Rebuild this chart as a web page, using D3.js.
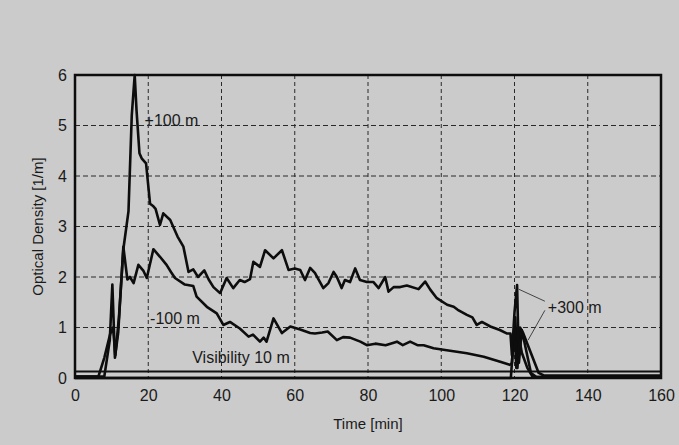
<!DOCTYPE html>
<html>
<head>
<meta charset="utf-8">
<script src="https://cdnjs.cloudflare.com/ajax/libs/d3/7.8.5/d3.min.js"></script>
<style>
	html, body { margin: 0; padding: 0; background: #cbcbcb; }
	text { font-family: "Liberation Sans", Arial, sans-serif; fill: #1a1a1a; }
</style>
</head>
<body>
<div id="chart"></div>
<script>
/* jshint esversion: 6 */
const width = 679,
			height = 445;

// Values: [time (min), optical density (1/m)]
const plus100 = [
	[0, 0.03], [6.4, 0.03], [8, 0.4], [9.6, 0.87], [10.4, 1.0], [11, 0.45], [12, 1.2],
	[13.2, 2.55], [14.6, 3.3], [15.5, 5.2], [16.3, 6.0], [16.8, 5.3], [17.6, 4.45],
	[18.2, 4.35], [19.4, 4.25], [20.5, 3.45], [21.4, 3.4], [22, 3.35], [23.2, 3.03],
	[24.1, 3.26], [26, 3.13], [28, 2.8], [29.6, 2.6], [31, 2.1], [32.3, 2.15], [33.6, 2.0],
	[35.3, 2.13], [36.5, 1.95], [37.8, 1.8], [39.6, 1.68], [41.4, 1.98], [43.2, 1.78],
	[45, 1.94], [46.3, 1.9], [47.8, 1.96], [48.7, 2.3], [50.5, 2.2], [51.9, 2.53],
	[54.2, 2.37], [56.5, 2.53], [58.3, 2.14], [60, 2.17], [61.5, 2.14], [62.8, 1.94],
	[64.2, 2.18], [65.5, 2.08], [67.8, 1.78], [69.2, 1.88], [70.6, 2.1], [71.5, 2.0],
	[72.8, 1.78], [73.7, 1.94], [75.1, 1.9], [76.5, 2.17], [77.8, 1.94], [79.7, 1.9],
	[81.5, 1.9], [82.9, 1.78], [84.7, 2.0], [85.6, 1.71], [87, 1.8], [88.8, 1.8],
	[90.6, 1.83], [93.8, 1.76], [95.6, 1.91], [97, 1.75], [98.8, 1.58], [101.6, 1.45],
	[103.4, 1.41], [104.5, 1.35], [107, 1.25], [108.5, 1.2], [109.7, 1.05], [111.1, 1.11],
	[113.4, 1.02], [116, 0.95], [118, 0.88], [118.9, 0.88], [119.3, 0.45], [120, 1.3],
	[120.7, 1.84], [121.2, 0.3], [122, 0.95], [124.5, 0.1], [126, 0.02], [160, 0.02]
];

const minus100 = [
	[0, 0.03], [8, 0.03], [9.5, 0.75], [10.2, 1.85], [10.9, 0.4], [11.8, 0.9], [13.2, 2.6],
	[14.3, 1.95], [15, 2.0], [16, 1.88], [17.3, 2.24], [18.7, 2.12], [19.6, 1.98],
	[21.4, 2.55], [23.2, 2.4], [25, 2.24], [26.2, 2.1], [27.3, 1.98], [30, 1.85],
	[32.3, 1.82], [33.2, 1.61], [36, 1.41], [38.7, 1.28], [40.5, 1.05], [42.3, 1.11],
	[45, 0.98], [47.4, 0.82], [48.6, 0.86], [50.5, 0.72], [51.5, 0.8], [52.3, 0.72],
	[54.2, 1.18], [56.5, 0.89], [58.8, 1.02], [61.5, 0.96], [64.2, 0.89], [65.5, 0.88],
	[67.5, 0.9], [69, 0.92], [71.5, 0.75], [73.2, 0.81], [75.1, 0.8], [77.9, 0.72],
	[79.7, 0.65], [82, 0.68], [84.8, 0.65], [87.9, 0.72], [89.5, 0.65], [91.5, 0.72],
	[93.5, 0.65], [95.2, 0.65], [97.9, 0.59], [101.5, 0.55], [107, 0.49], [111.6, 0.42],
	[116.1, 0.32], [118.7, 0.26], [119.3, 0.3], [120, 1.0], [120.5, 0.2], [121, 0.9],
	[122, 0.5], [123.5, 0.2], [125, 0.02], [160, 0.02]
];

const plus300 = [
	[0, 0.0], [119, 0.0], [120.2, 1.2], [120.8, 0.2], [121.5, 1.0], [122.3, 0.9],
	[126.6, 0.1], [128, 0.05], [160, 0.05]
];

const visibilityLevel = 0.13;

const xTicks = [0, 20, 40, 60, 80, 100, 120, 140, 160],
			yTicks = [0, 1, 2, 3, 4, 5, 6];

// Curve labels: [text, time, density]
const labels = [
	["+100 m", 19.0, 5.0],
	["-100 m", 20.5, 1.07],
	["Visibility 10 m", 32, 0.3],
	["+300 m", 129.1, 1.29]
];

// Leader lines of the +300 m label: [t1, v1, t2, v2]
const leaders = [
	[128.3, 1.52, 121.1, 1.76],
	[128.3, 1.34, 123.7, 0.75]
];

const x = d3.scaleLinear()
		.domain([0, 160])
		.range([75, 661]);

const y = d3.scaleLinear()
		.domain([0, 6])
		.range([378, 75]);

const svg = d3.select("#chart")
	.append("svg")
		.attr("width", width)
		.attr("height", height);

// Grid
svg.append("g")
	.selectAll("line")
	.data(xTicks.slice(1, -1))
	.enter()
	.append("line")
		.attr("x1", d => x(d))
		.attr("x2", d => x(d))
		.attr("y1", y(6))
		.attr("y2", y(0))
		.attr("stroke", "#2a2a2a")
		.attr("stroke-width", 1)
		.attr("stroke-dasharray", "4,3");

svg.append("g")
	.selectAll("line")
	.data(yTicks.slice(1, -1))
	.enter()
	.append("line")
		.attr("x1", x(0))
		.attr("x2", x(160))
		.attr("y1", d => y(d))
		.attr("y2", d => y(d))
		.attr("stroke", "#2a2a2a")
		.attr("stroke-width", 1)
		.attr("stroke-dasharray", "5,3");

// Axes (labels only, the frame is drawn below)
const xAxis = svg.append("g")
		.attr("transform", `translate(0, ${y(0)})`)
		.call(d3.axisBottom(x).tickValues(xTicks).tickFormat(d3.format("d"))
				.tickSize(0).tickPadding(12));

const yAxis = svg.append("g")
		.attr("transform", `translate(${x(0)}, 0)`)
		.call(d3.axisLeft(y).tickValues(yTicks).tickFormat(d3.format("d"))
				.tickSize(0).tickPadding(8));

[xAxis, yAxis].forEach(a => {
	a.select(".domain").remove();
	a.selectAll("text")
			.attr("font-size", 16)
			.attr("font-family", "Liberation Sans, Arial, sans-serif")
			.attr("fill", "#1a1a1a");
});

svg.append("text")
		.attr("x", (x(0) + x(160)) / 2)
		.attr("y", 429)
		.attr("text-anchor", "middle")
		.attr("font-size", 15)
		.text("Time [min]");

svg.append("text")
		.attr("transform", `translate(43, ${(y(0) + y(6)) / 2}) rotate(-90)`)
		.attr("text-anchor", "middle")
		.attr("font-size", 15)
		.text("Optical Density [1/m]");

// Visibility line
svg.append("line")
		.attr("x1", x(0))
		.attr("x2", x(160))
		.attr("y1", y(visibilityLevel))
		.attr("y2", y(visibilityLevel))
		.attr("stroke", "#111")
		.attr("stroke-width", 2);

// Curves
const line = d3.line()
		.x(d => x(d[0]))
		.y(d => y(d[1]));

svg.append("g")
	.selectAll("path")
	.data([plus300, minus100, plus100])
	.enter()
	.append("path")
		.attr("d", line)
		.attr("fill", "none")
		.attr("stroke", "#0d0d0d")
		.attr("stroke-width", 2.6)
		.attr("stroke-linejoin", "round");

// Frame
svg.append("rect")
		.attr("x", x(0))
		.attr("y", y(6))
		.attr("width", x(160) - x(0))
		.attr("height", y(0) - y(6))
		.attr("fill", "none")
		.attr("stroke", "#0d0d0d")
		.attr("stroke-width", 2.5);

// Leaders and labels
svg.append("g")
	.selectAll("line")
	.data(leaders)
	.enter()
	.append("line")
		.attr("x1", d => x(d[0]))
		.attr("y1", d => y(d[1]))
		.attr("x2", d => x(d[2]))
		.attr("y2", d => y(d[3]))
		.attr("stroke", "#444")
		.attr("stroke-width", 1);

svg.append("g")
	.selectAll("text")
	.data(labels)
	.enter()
	.append("text")
		.attr("x", d => x(d[1]))
		.attr("y", d => y(d[2]))
		.attr("font-size", 16)
		.text(d => d[0]);
</script>
</body>
</html>
